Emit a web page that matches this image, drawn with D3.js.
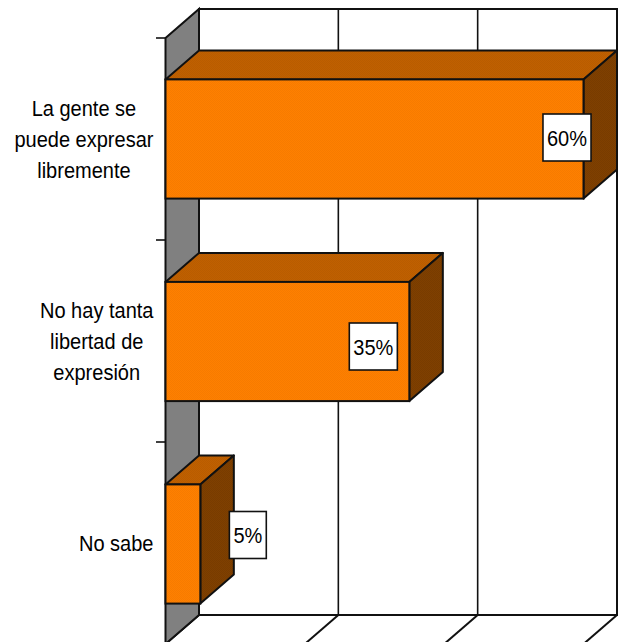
<!DOCTYPE html>
<html>
<head>
<meta charset="utf-8">
<script src="https://cdn.jsdelivr.net/npm/d3@7"></script>
<style>html,body{margin:0;padding:0;background:#fff}svg{display:block}text{font-family:"Liberation Sans",Arial,sans-serif;fill:#000}</style>
</head>
<body>
<svg id="c" width="618" height="642"></svg>
<script>
const categories = ["La gente se\npuede expresar\nlibremente", "No hay tanta\nlibertad de\nexpresión", "No sabe"];
const values = [60, 35, 5];
const xTicks = [0, 20, 40, 60];

const depthX = 33.5, depthY = 29;
const svg = d3.select("#c");
const x = d3.scaleLinear().domain([0, 60]).range([165.5, 583.5]);
const yBand = d3.scaleBand().domain(categories).range([38, 644]).paddingInner(0.41).paddingOuter(0.205);
const rowShift = [0, 0.5, 1];
const y = c => yBand(c) + rowShift[categories.indexOf(c)];
const top0 = yBand.range()[0], bot0 = yBand.range()[1];
const ink = "#111", sw = 2;

const defs = svg.append("defs");
function dither(id, a, b) {
  const p = defs.append("pattern").attr("id", id).attr("width", 2).attr("height", 2).attr("patternUnits", "userSpaceOnUse");
  p.append("rect").attr("width", 2).attr("height", 2).attr("fill", a);
  p.append("rect").attr("width", 1).attr("height", 1).attr("fill", b);
  p.append("rect").attr("x", 1).attr("y", 1).attr("width", 1).attr("height", 1).attr("fill", b);
}
dither("front", "#ff8000", "#f67b00");
dither("topf", "#c06000", "#b85c00");
dither("side", "#804000", "#783c00");

const poly = pts => pts.map(p => p.join(",")).join(" ");
const xb = v => x(v) + depthX;

// back wall
svg.append("rect").attr("x", xb(0)).attr("y", top0 - depthY)
  .attr("width", xb(60) - xb(0)).attr("height", bot0 - top0)
  .attr("fill", "#fff").attr("stroke", ink).attr("stroke-width", sw);

// vertical gridlines on the back wall, and their floor diagonals
svg.append("g").selectAll("line.g").data(xTicks.slice(1, -1)).join("line")
  .attr("x1", d => xb(d)).attr("x2", d => xb(d)).attr("y1", top0 - depthY).attr("y2", bot0 - depthY)
  .attr("stroke", ink).attr("stroke-width", 1.6);
svg.append("g").selectAll("line").data(xTicks).join("line")
  .attr("x1", d => xb(d)).attr("y1", bot0 - depthY).attr("x2", d => x(d)).attr("y2", bot0)
  .attr("stroke", ink).attr("stroke-width", sw);

// side wall
svg.append("polygon").attr("points", poly([[x(0), top0], [xb(0), top0 - depthY], [xb(0), bot0 - depthY], [x(0), bot0]]))
  .attr("fill", "#808080").attr("stroke", ink).attr("stroke-width", sw);

// category axis ticks
const tickYs = [top0, ...categories.slice(1).map(c => yBand(c) - yBand.step() * yBand.paddingInner() / 2)];
svg.append("g").selectAll("line").data(tickYs).join("line")
  .attr("x1", x(0) - 9.5).attr("x2", x(0)).attr("y1", d => d).attr("y2", d => d)
  .attr("stroke", ink).attr("stroke-width", 1.6);

// bars
const rows = categories.map((c, i) => ({c, v: values[i]}));
const bars = svg.append("g").selectAll("g").data(rows).join("g");
bars.append("polygon").attr("fill", "url(#topf)").attr("stroke", ink).attr("stroke-width", sw).attr("stroke-linejoin", "round")
  .attr("points", d => { const t = y(d.c); return poly([[x(0), t], [xb(0), t - depthY], [xb(d.v), t - depthY], [x(d.v), t]]); });
bars.append("polygon").attr("fill", "url(#side)").attr("stroke", ink).attr("stroke-width", sw).attr("stroke-linejoin", "round")
  .attr("points", d => { const t = y(d.c), b = t + yBand.bandwidth(); return poly([[x(d.v), t], [xb(d.v), t - depthY], [xb(d.v), b - depthY], [x(d.v), b]]); });
bars.append("rect").attr("x", x(0)).attr("y", d => y(d.c)).attr("width", d => x(d.v) - x(0)).attr("height", yBand.bandwidth())
  .attr("fill", "url(#front)").attr("stroke", ink).attr("stroke-width", sw);

// category labels: centred lines, block flush against the axis; the reference type is tall and narrow
const fs = 22.5, squeeze = 0.89, lh = 31.4, labelRight = 153.5;
svg.append("g").selectAll("g").data(categories).join("g").each(function (c) {
  const g = d3.select(this), lines = c.split("\n");
  const mid = yBand(c) + yBand.bandwidth() / 2 + 8;
  const ts = g.selectAll("text").data(lines).join("text")
    .attr("font-size", fs).attr("text-anchor", "middle")
    .text(d => d);
  const w = d3.max(ts.nodes(), n => n.getComputedTextLength()) * squeeze;
  ts.attr("transform", (d, i) => `translate(${labelRight - w / 2},${mid + (i - (lines.length - 1) / 2) * lh}) scale(${squeeze},1)`);
});

// value labels, hand-placed as in the reference (box centres relative to bar end / bar middle)
const labelNudge = [[-16.5, -1.5], [-36, 5.5], [47.5, -8]];
const vals = svg.append("g").selectAll("g").data(rows).join("g")
  .attr("transform", (d, i) => `translate(${x(d.v) + labelNudge[i][0]},${yBand(d.c) + yBand.bandwidth() / 2 + labelNudge[i][1]})`);
vals.append("text").attr("font-size", fs).attr("text-anchor", "middle").attr("y", 8).attr("transform", `scale(${squeeze},1)`).text(d => d.v + "%");
vals.insert("rect", "text").each(function () {
  const w = this.parentNode.querySelector("text").getComputedTextLength() * squeeze + 8;
  d3.select(this).attr("x", -w / 2).attr("y", -23.5).attr("width", w).attr("height", 47);
}).attr("fill", "#fff").attr("stroke", ink).attr("stroke-width", 1.6);
</script>
</body>
</html>
